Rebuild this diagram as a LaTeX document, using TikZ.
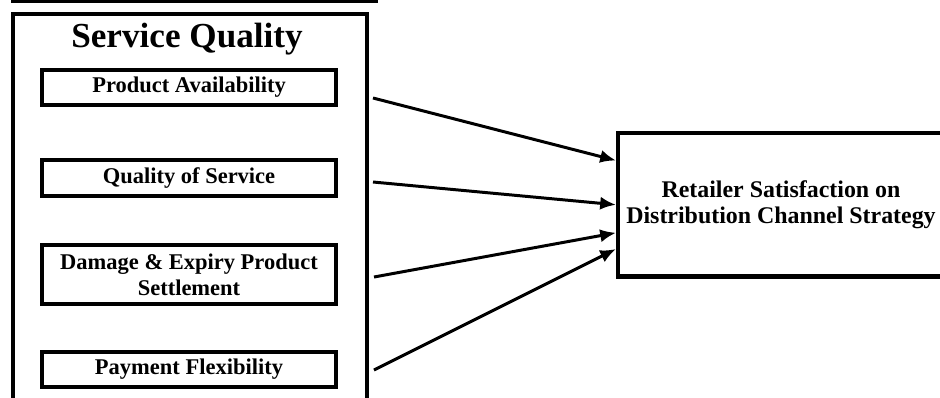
\documentclass[tikz,border=0pt]{standalone}
\usepackage{fontspec}
\setmainfont{Liberation Serif}
\usetikzlibrary{arrows.meta,calc}
\tikzset{
  frm/.style  ={draw=black, line width=2.3pt},
  itm/.style  ={draw=black, line width=2.2pt, minimum width=5.88cm, align=center, inner sep=1pt, font=\fontsize{12.8}{15}\selectfont\bfseries},
  ttl/.style  ={font=\fontsize{20}{24}\selectfont\bfseries, inner sep=0pt},
  ptr/.style  ={draw=black, line width=1.7pt, -{Latex[length=9pt,width=7.5pt]}},
}

\begin{document}
\begin{tikzpicture}[x=0.02cm,y=-0.02cm]
  \useasboundingbox (0,0) rectangle (940,397);
  % rule at the top and the service quality frame
  \draw[line width=1.8pt] (11,1) -- (378,1);
  \draw[frm] (13,430) -- (13,14) -- (367,14) -- (367,430);
  \node[ttl,anchor=base] (title) at (187,47) {Service Quality};
  \node[itm,minimum height=0.70cm] (avail) at (189,87.5) {Product Availability};
  \node[itm,minimum height=0.72cm] (qos) at (189,178) {Quality of Service};
  \node[itm,minimum height=1.18cm] (dmg) at (189,274.5) {Damage \& Expiry Product\\Settlement};
  \node[itm,minimum height=0.70cm] (pay) at (189,369.5) {Payment Flexibility};
  % outcome
  \node[frm,minimum width=6.52cm,minimum height=2.87cm,align=center,
        font=\fontsize{13.6}{15}\selectfont\bfseries] (goal) at (781,204.75)
        {Retailer Satisfaction on\\Distribution Channel Strategy};
  \coordinate (s1) at (373,98);
  \coordinate (s2) at (373,182);
  \coordinate (s3) at (374,277);
  \coordinate (s4) at (374,370);
  \draw[ptr] (s1) -- ($(goal.north west)!0.20!(goal.south west)$);
  \draw[ptr] (s2) -- ($(goal.north west)!0.50!(goal.south west)$);
  \draw[ptr] (s3) -- ($(goal.north west)!0.69!(goal.south west)$);
  \draw[ptr] (s4) -- ($(goal.north west)!0.80!(goal.south west)$);
\end{tikzpicture}
\end{document}
